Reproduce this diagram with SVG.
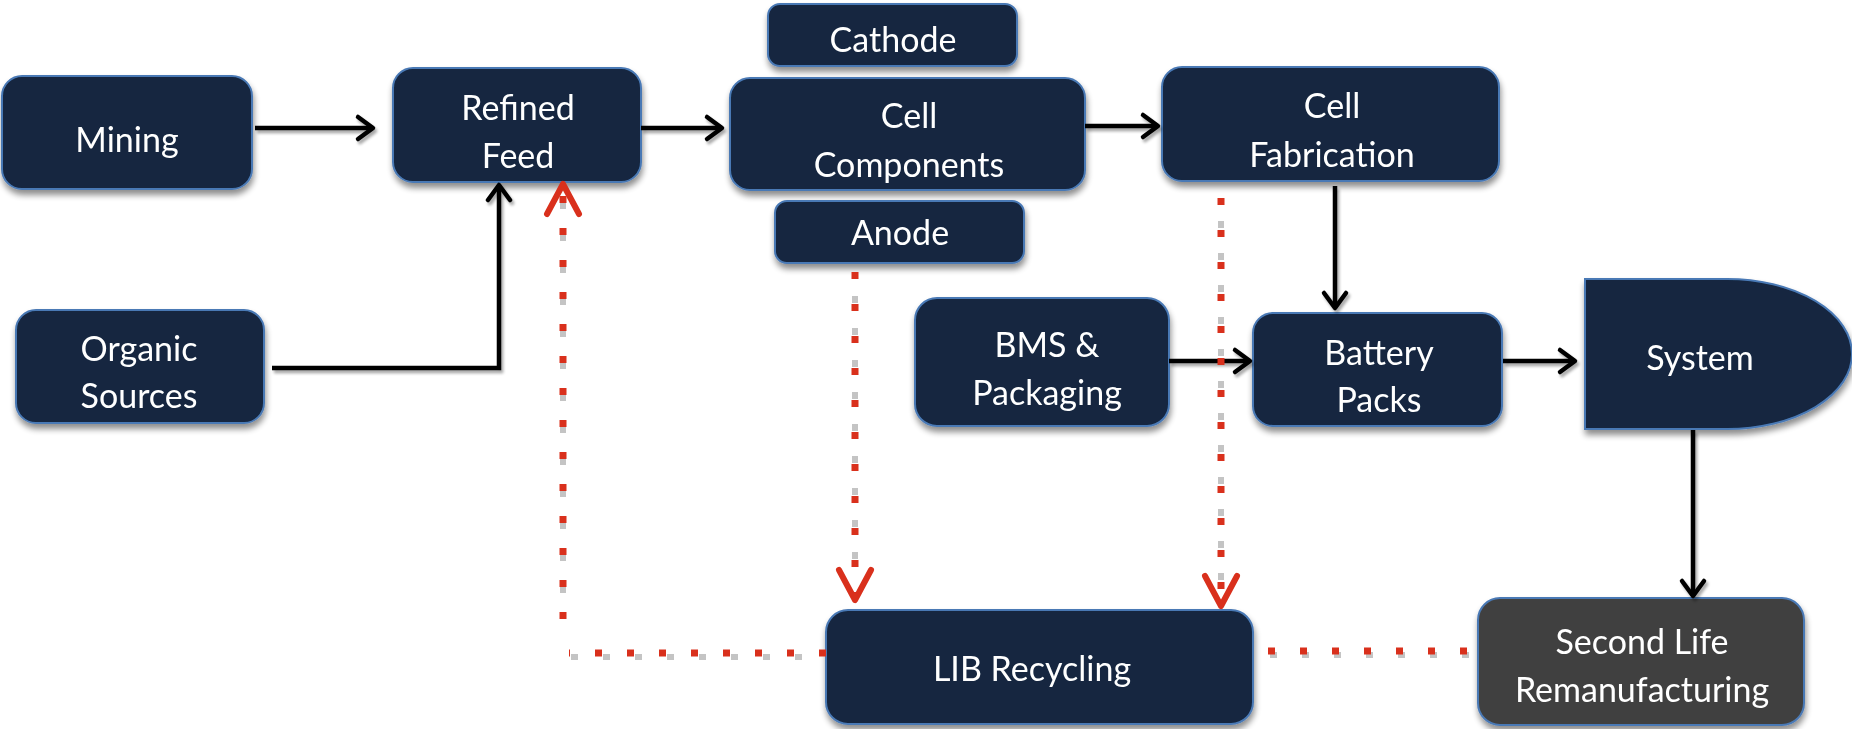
<svg xmlns="http://www.w3.org/2000/svg" width="1852" height="729" viewBox="0 0 1852 729">
<style>
.box{fill:#13253f;stroke:#4a79b5;stroke-width:2}
.gray{fill:#404040;stroke:#4a79b5;stroke-width:2}
.t{font-family:Lato,"Liberation Sans",sans-serif;font-size:34px;fill:#ffffff;text-anchor:middle}
.k{fill:none;stroke:#000;stroke-width:4.5}
.r{fill:none;stroke:#d9301c;stroke-width:7;stroke-dasharray:7 25}
.rs{fill:none;stroke:#c4c4c4;stroke-width:6;stroke-dasharray:7 25}
</style>
<defs>
<filter id="sh" x="-10%" y="-10%" width="130%" height="140%">
<feGaussianBlur in="SourceAlpha" stdDeviation="3"/>
<feOffset dx="1" dy="5" result="b"/>
<feComponentTransfer><feFuncA type="linear" slope="0.45"/></feComponentTransfer>
<feMerge><feMergeNode/><feMergeNode in="SourceGraphic"/></feMerge>
</filter>
<filter id="lsh" x="-20%" y="-20%" width="140%" height="140%">
<feGaussianBlur in="SourceAlpha" stdDeviation="1.5"/>
<feOffset dx="2" dy="3"/>
<feComponentTransfer><feFuncA type="linear" slope="0.35"/></feComponentTransfer>
<feMerge><feMergeNode/><feMergeNode in="SourceGraphic"/></feMerge>
</filter>
<marker id="ak" markerUnits="userSpaceOnUse" viewBox="-24 -16 28 32" markerWidth="28" markerHeight="32" refX="0" refY="0" orient="auto" overflow="visible">
<path d="M-15,-11 L0,0 L-15,11" fill="none" stroke="#000" stroke-width="4.5" stroke-linecap="round" stroke-linejoin="round"/>
</marker>
<marker id="ar" markerUnits="userSpaceOnUse" viewBox="-36 -22 42 44" markerWidth="42" markerHeight="44" refX="0" refY="0" orient="auto" overflow="visible">
<path d="M-30,-16 L0,0 L-30,16" fill="none" stroke="#d9301c" stroke-width="6" stroke-linecap="round" stroke-linejoin="round"/>
</marker>
</defs>
<rect width="1852" height="729" fill="#ffffff"/>

<g id="mining" filter="url(#sh)"><rect class="box" x="2" y="76" width="250" height="113" rx="20"/><text class="t" x="127" y="152">Mining</text></g>
<g id="refined-feed" filter="url(#sh)"><rect class="box" x="393" y="68" width="248" height="114" rx="20"/><text class="t" x="518" y="120">Refined</text><text class="t" x="518" y="168">Feed</text></g>
<g id="cathode" filter="url(#sh)"><rect class="box" x="768" y="4" width="249" height="62" rx="12"/><text class="t" x="893" y="52">Cathode</text></g>
<g id="cell-components" filter="url(#sh)"><rect class="box" x="730" y="78" width="355" height="112" rx="20"/><text class="t" x="909" y="128">Cell</text><text class="t" x="909" y="177">Components</text></g>
<g id="anode" filter="url(#sh)"><rect class="box" x="775" y="201" width="249" height="62" rx="12"/><text class="t" x="900" y="245">Anode</text></g>
<g id="cell-fabrication" filter="url(#sh)"><rect class="box" x="1162" y="67" width="337" height="114" rx="20"/><text class="t" x="1332" y="118">Cell</text><text class="t" x="1332" y="167">Fabrication</text></g>
<g id="organic-sources" filter="url(#sh)"><rect class="box" x="16" y="310" width="248" height="113" rx="20"/><text class="t" x="139" y="361">Organic</text><text class="t" x="139" y="408">Sources</text></g>
<g id="bms-packaging" filter="url(#sh)"><rect class="box" x="915" y="298" width="254" height="128" rx="22"/><text class="t" x="1047" y="357">BMS &amp;</text><text class="t" x="1047" y="405">Packaging</text></g>
<g id="battery-packs" filter="url(#sh)"><rect class="box" x="1253" y="313" width="249" height="113" rx="20"/><text class="t" x="1379" y="365">Battery</text><text class="t" x="1379" y="412">Packs</text></g>
<g id="system" filter="url(#sh)"><path class="box" d="M1585,279 H1727 A125,75 0 0 1 1727,429 H1585 Z"/><text class="t" x="1700" y="370">System</text></g>
<g id="lib-recycling" filter="url(#sh)"><rect class="box" x="826" y="610" width="427" height="114" rx="22"/><text class="t" x="1032" y="681">LIB Recycling</text></g>
<g id="second-life" filter="url(#sh)"><rect class="gray" x="1478" y="598" width="326" height="127" rx="22"/><text class="t" x="1642" y="654">Second Life</text><text class="t" x="1642" y="702">Remanufacturing</text></g>

<g id="connectors">
<g filter="url(#lsh)">
<path class="k" d="M255,128 H373" marker-end="url(#ak)"/>
<path class="k" d="M641,128 H722" marker-end="url(#ak)"/>
<path class="k" d="M1085,126 H1158" marker-end="url(#ak)"/>
<path class="k" d="M272,368 H499 V185" marker-end="url(#ak)"/>
<path class="k" d="M1335,186 V308" marker-end="url(#ak)"/>
<path class="k" d="M1169,361 H1250" marker-end="url(#ak)"/>
<path class="k" d="M1503,361 H1575" marker-end="url(#ak)"/>
<path class="k" d="M1693,430 V596" marker-end="url(#ak)"/>
</g>
<path class="rs" d="M563,609 V200" stroke-dashoffset="-16"/>
<path class="rs" d="M855,280 V580" stroke-dashoffset="-16"/>
<path class="rs" d="M1221,205 V585" stroke-dashoffset="-16"/>
<path class="rs" d="M571,657 H824"/>
<path class="rs" d="M1270,655 H1474"/>
<path class="r" d="M826,653 H569"/>
<path class="r" d="M563,619 V184" marker-end="url(#ar)"/>
<path class="r" d="M855,272 V600" marker-end="url(#ar)"/>
<path class="r" d="M1221,198 V606" marker-end="url(#ar)"/>
<path class="r" d="M1268,651 H1476"/>
</g>
</svg>
